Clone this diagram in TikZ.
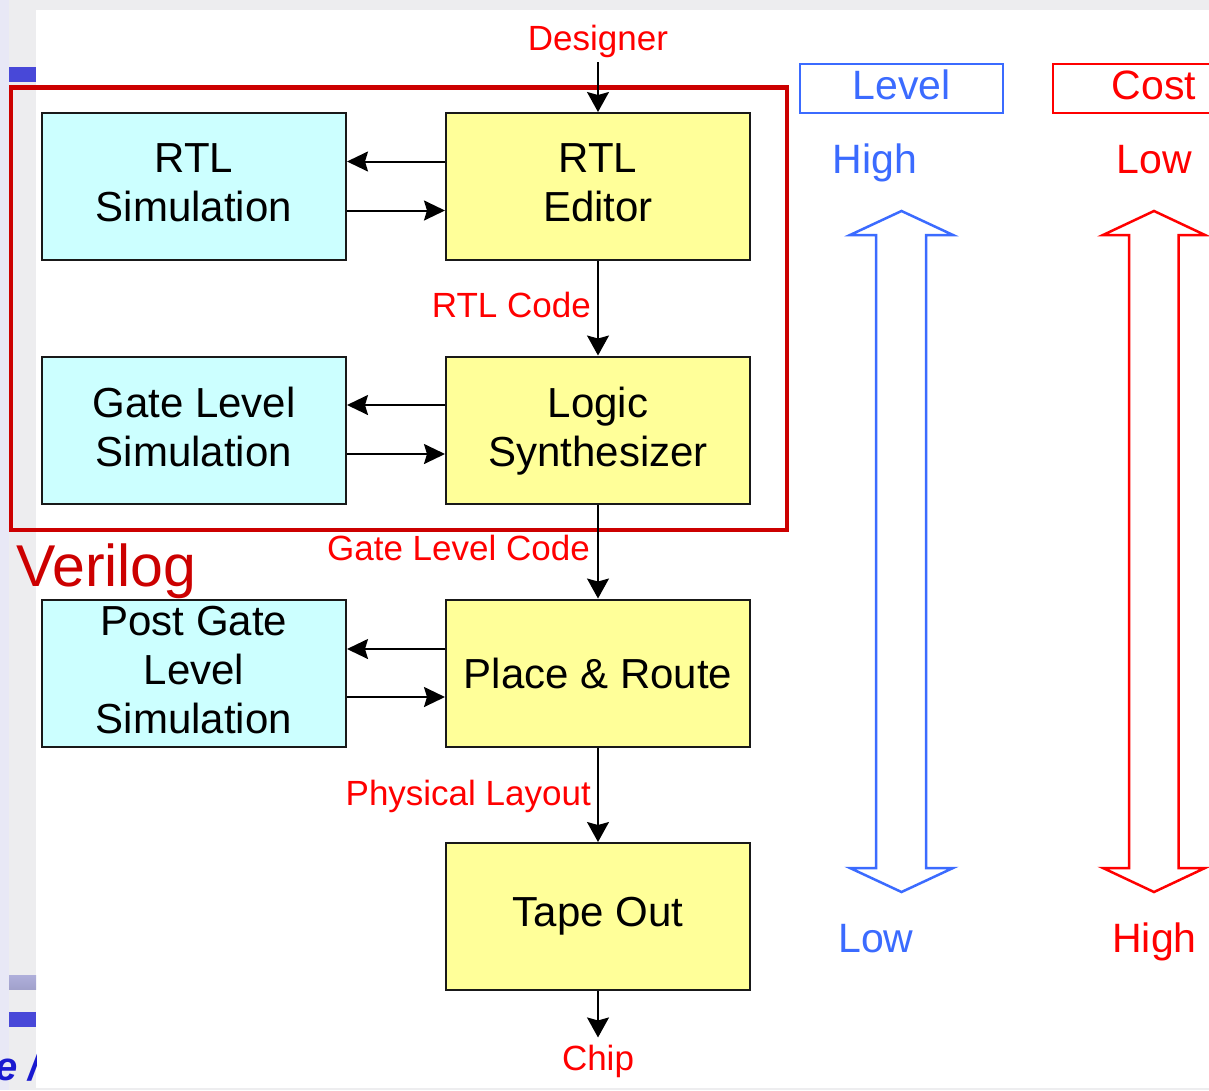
\documentclass[tikz,border=0pt]{standalone}
\usepackage{fontspec}
\setmainfont{Liberation Sans}
\usetikzlibrary{arrows.meta}

\definecolor{simfill}{HTML}{CCFFFF}
\definecolor{toolfill}{HTML}{FFFF99}
\definecolor{labelred}{HTML}{FF0000}
\definecolor{framered}{HTML}{CC0000}
\definecolor{levelblue}{HTML}{3B6BFF}
\definecolor{slidebg}{HTML}{EDEDEF}
\definecolor{slideedge}{HTML}{E8E8F6}
\definecolor{slideblue}{HTML}{4848D8}
\definecolor{slidetitle}{HTML}{1A1AD0}

\begin{document}
\begin{tikzpicture}[x=1pt,y=-1pt,
  box/.style={draw=black!90, line width=2pt, minimum width=304pt,
    minimum height=147pt, inner sep=0pt, align=center,
    font=\fontsize{42}{49}\selectfont},
  simbox/.style={box, fill=simfill},
  toolbox/.style={box, fill=toolfill},
  multiline/.style={text depth=7pt},
  flowlabel/.style={text=labelred, inner sep=0pt,
    font=\fontsize{35}{40}\selectfont},
  flow/.style={line width=1.5pt, black,
    -{Stealth[length=20pt,width=22pt,inset=3pt]}},
  link/.style={line width=2pt, black,
    -{Stealth[length=21pt,width=20pt,inset=3pt]}},
  scalebox/.style={line width=2pt, minimum width=203pt, minimum height=49pt,
    inner sep=0pt, text height=30pt, text depth=8pt,
    font=\fontsize{41}{48}\selectfont},
  scaletext/.style={inner sep=0pt, anchor=base,
    font=\fontsize{41}{48}\selectfont},
  scalearrow/.style={line width=2.5pt, line join=miter},
]
\useasboundingbox (0,0) rectangle (1209,1090);
\clip (0,0) rectangle (1209,1090);

% slide background around the white drawing area
\fill[slidebg] (0,0) rectangle (1209,1090);
\fill[slideedge] (0,0) rectangle (9,1090);
\fill[white] (36,10) rectangle (1209,1088);
\fill[slideblue] (9,67) rectangle (36,82);
\shade[top color=black!25!slideblue!40, bottom color=black!35!slideblue!45] (9,975) rectangle (36,989);
\fill[slideblue] (9,1012) rectangle (36,1027);
\begin{scope}
  \clip (0,1040) rectangle (36,1088);
  \node[anchor=base east, inner sep=0pt, text=slidetitle,
    font=\fontsize{40}{44}\selectfont\bfseries\itshape] (ttl) at (40,1080) {e /};
\end{scope}

% Verilog group frame
\draw[framered, line width=4.5pt] (11,87.5) rectangle (787,530);
\node[text=framered, inner sep=0pt, anchor=base west,
  font=\fontsize{59}{62}\selectfont] (vlg) at (16,586) {Verilog};

% design tools
\node[toolbox, multiline] (ed) at (598,186.5) {RTL\\Editor};
\node[toolbox, multiline] (ls) at (598,430) {Logic\\Synthesizer};
\node[toolbox] (pr) at (598,673) {Place \& Route};
\node[toolbox] (to) at (598,916.5) {Tape Out};

% simulation steps
\node[simbox, multiline] (rs) at (194,186.5) {RTL\\Simulation};
\node[simbox, multiline] (gs) at (194,430) {Gate Level\\Simulation};
\node[simbox, multiline] (ps) at (194,673) {Post Gate\\Level\\Simulation};

% flow labels
\node[flowlabel, anchor=base] (des) at (598,50) {Designer};
\node[flowlabel, anchor=base east] (rtlc) at (591,317) {RTL Code};
\node[flowlabel, anchor=base east] (glc) at (590,560) {Gate Level Code};
\node[flowlabel, anchor=base east] (phl) at (591,805.5) {Physical Layout};
\node[flowlabel, anchor=base] (chip) at (598,1070) {Chip};

% main flow
\draw[flow, shorten <=5pt] (des) -- (ed);
\draw[flow] (ed) -- (ls);
\draw[flow] (ls) -- (pr);
\draw[flow] (pr) -- (to);
\draw[flow, shorten >=7pt] (to) -- (chip);

% simulation loops
\draw[link] ([yshift=25pt]ed.west) -- ([yshift=25pt]rs.east);
\draw[link] ([yshift=-24pt]rs.east) -- ([yshift=-24pt]ed.west);
\draw[link] ([yshift=25pt]ls.west) -- ([yshift=25pt]gs.east);
\draw[link] ([yshift=-24pt]gs.east) -- ([yshift=-24pt]ls.west);
\draw[link] ([yshift=24pt]pr.west) -- ([yshift=24pt]ps.east);
\draw[link] ([yshift=-24pt]ps.east) -- ([yshift=-24pt]pr.west);

% level scale
\node[scalebox, draw=levelblue, text=levelblue] (lvl) at (901.5,88.5) {Level};
\node[scaletext, text=levelblue] (lvhi) at (875,173) {High};
\node[scaletext, text=levelblue] (lvlo) at (876,952) {Low};
\draw[scalearrow, levelblue] (901.5,211) -- (953,235) -- (926,235) -- (926,868)
  -- (953,868) -- (901.5,892) -- (850,868) -- (876,868) -- (876,235)
  -- (850,235) -- cycle;

% cost scale
\node[scalebox, draw=labelred, text=labelred] (cst) at (1154,88.5) {Cost};
\node[scaletext, text=labelred] (cslo) at (1154,173) {Low};
\node[scaletext, text=labelred] (cshi) at (1154.5,952) {High};
\draw[scalearrow, labelred] (1154,211) -- (1205,235) -- (1178.5,235) -- (1178.5,868)
  -- (1205,868) -- (1154,892) -- (1103,868) -- (1129,868) -- (1129,235)
  -- (1103,235) -- cycle;
\end{tikzpicture}
\end{document}
